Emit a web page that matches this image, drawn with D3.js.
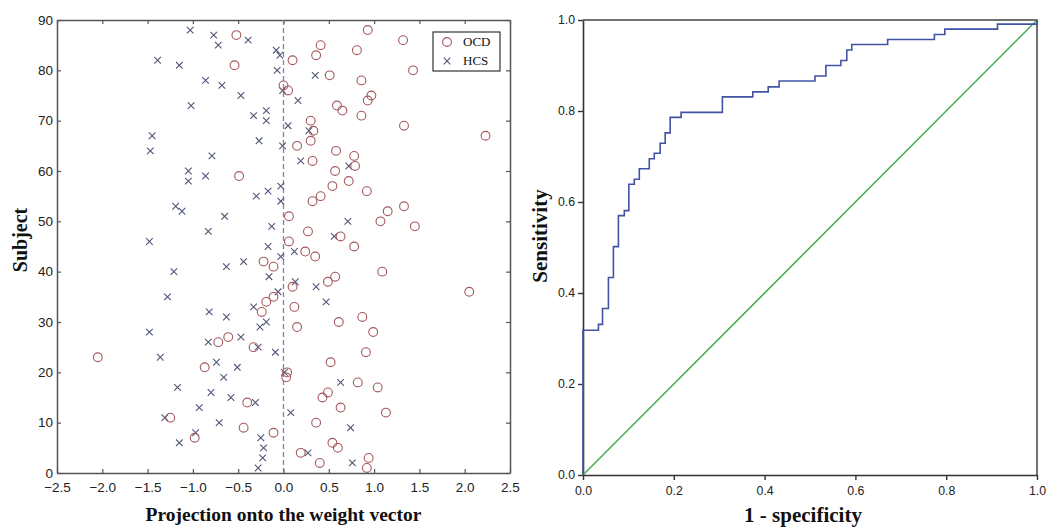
<!DOCTYPE html>
<html>
<head>
<meta charset="utf-8">
<script src="https://cdnjs.cloudflare.com/ajax/libs/d3/7.8.5/d3.min.js"></script>
<style>
  body { margin: 0; background: #fff; }
  svg { display: block; }
  .tick text { font-family: "Liberation Sans", Arial, sans-serif; fill: #222; }
  .ttl { font-family: "Liberation Serif", "Times New Roman", serif; font-weight: bold; fill: #111; }
</style>
</head>
<body>
<svg id="stage" width="1046" height="529"></svg>
<script>
var svg = d3.select("#stage");

// data: projection value per subject, subjects 1..88 in each group
var ocdProj = [0.92, 0.40, 0.94, 0.19, 0.60, 0.54, -0.98, -0.11, -0.44, 0.36,
  -1.25, 1.13, 0.63, -0.40, 0.43, 0.49, 1.04, 0.82, 0.03, 0.04,
  -0.87, 0.52, -2.05, 0.91, -0.33, -0.72, -0.61, 0.99, 0.15, 0.61,
  0.87, -0.24, 0.12, -0.19, -0.11, 2.05, 0.10, 0.49, 0.57, 1.09,
  -0.11, -0.22, 0.35, 0.24, 0.78, 0.06, 0.63, 0.27, 1.45, 1.07,
  0.06, 1.15, 1.33, 0.32, 0.41, 0.92, 0.54, 0.72, -0.49, 0.57,
  0.79, 0.32, 0.78, 0.58, 0.15, 0.30, 2.23, 0.33, 1.33, 0.30,
  0.86, 0.65, 0.59, 0.93, 0.97, 0.05, 0.00, 0.86, 0.51, 1.43,
  -0.54, 0.10, 0.36, 0.81, 0.41, 1.32, -0.52, 0.93];

var hcsProj = [-0.28, 0.76, -0.23, 0.27, -0.22, -1.15, -0.25, -0.97, 0.74, -0.71,
  -1.31, 0.08, -0.93, -0.31, -0.58, -0.80, -1.17, 0.63, -0.66, 0.01,
  -0.51, -0.74, -1.36, -0.09, -0.28, -0.83, -0.47, -1.48, -0.26, -0.19,
  -0.63, -0.82, -0.33, 0.47, -1.28, -0.06, 0.36, 0.13, -0.16, -1.21,
  -0.63, -0.44, -0.03, 0.12, -0.17, -1.48, 0.56, -0.83, -0.13, 0.71,
  -0.65, -1.12, -1.19, -0.03, -0.30, -0.17, -0.03, -1.05, -0.86, -1.05,
  0.72, 0.19, -0.79, -1.47, -0.01, -0.27, -1.45, 0.28, 0.05, -0.19,
  -0.33, -0.19, -1.02, 0.16, -0.47, -0.01, -0.68, -0.86, 0.35, -0.07,
  -1.15, -1.39, -0.04, -0.08, -0.72, -0.39, -0.77, -1.03];

var projTicks = [-2.5, -2, -1.5, -1, -0.5, 0, 0.5, 1, 1.5, 2, 2.5];
var subjTicks = [0, 10, 20, 30, 40, 50, 60, 70, 80, 90];

// ROC operating points (1 - specificity, sensitivity)
var rocFpr = [0, 0, 0.034, 0.043, 0.056, 0.067, 0.078, 0.091, 0.101, 0.113,
  0.124, 0.146, 0.157, 0.170, 0.181, 0.192, 0.216, 0.307, 0.374, 0.408,
  0.432, 0.511, 0.535, 0.568, 0.581, 0.592, 0.671, 0.774, 0.797, 0.913, 1.0];
var rocTpr = [0, 0.318, 0.331, 0.366, 0.434, 0.502, 0.570, 0.581, 0.639, 0.650,
  0.673, 0.695, 0.707, 0.729, 0.752, 0.786, 0.797, 0.831, 0.842, 0.853,
  0.866, 0.877, 0.900, 0.911, 0.934, 0.946, 0.957, 0.968, 0.980, 0.991, 1.0];
var rocTicks = [0, 0.2, 0.4, 0.6, 0.8, 1.0];

////////////////////////////// LEFT: projection scatter

var L = {left: 57, right: 510, top: 20, bottom: 473};
var x1 = d3.scaleLinear().domain([-2.5, 2.5]).range([L.left, L.right]);
var y1 = d3.scaleLinear().domain([0, 90]).range([L.bottom, L.top]);

var left = svg.append("g");

var styleAxis = function(g, size){
  g.selectAll("path.domain").attr("stroke", "#555").attr("stroke-width", 1.5);
  g.selectAll(".tick line").attr("stroke", "#555").attr("stroke-width", 1.2);
  g.selectAll(".tick text").style("font-size", size + "px");
};

left.append("g")
  .attr("transform", "translate(0," + L.bottom + ")")
  .call(d3.axisBottom(x1).tickValues(projTicks).tickSizeInner(-4).tickSizeOuter(0).tickPadding(9))
  .call(styleAxis, 13.5);

left.append("g")
  .attr("transform", "translate(0," + L.top + ")")
  .call(d3.axisTop(x1).tickValues(projTicks).tickSizeInner(-4).tickSizeOuter(0).tickFormat(""))
  .call(styleAxis, 12);

left.append("g")
  .attr("transform", "translate(" + L.left + ",0)")
  .call(d3.axisLeft(y1).tickValues(subjTicks).tickSizeInner(-4).tickSizeOuter(0).tickPadding(4))
  .call(styleAxis, 13.5);

left.append("g")
  .attr("transform", "translate(" + L.right + ",0)")
  .call(d3.axisRight(y1).tickValues(subjTicks).tickSizeInner(-4).tickSizeOuter(0).tickFormat(""))
  .call(styleAxis, 12);

// dashed zero line
left.append("line")
  .attr("x1", x1(0)).attr("x2", x1(0))
  .attr("y1", L.top).attr("y2", L.bottom)
  .attr("stroke", "#7a84a8").attr("stroke-width", 1.3)
  .attr("stroke-dasharray", "5,3");

var crossPath = "M-3.3,-3.3L3.3,3.3M-3.3,3.3L3.3,-3.3";

left.selectAll("path.hcs")
  .data(hcsProj)
  .enter().append("path")
    .attr("class", "hcs")
    .attr("d", crossPath)
    .attr("transform", function(d, i){ return "translate(" + x1(d) + "," + y1(i + 1) + ")"; })
    .attr("stroke", "#4f5678").attr("stroke-width", 1.1).attr("fill", "none");

left.selectAll("circle.ocd")
  .data(ocdProj)
  .enter().append("circle")
    .attr("class", "ocd")
    .attr("cx", function(d){ return x1(d); })
    .attr("cy", function(d, i){ return y1(i + 1); })
    .attr("r", 4.4)
    .attr("stroke", "#a4585c").attr("stroke-width", 1.1).attr("fill", "none");

// legend
var lg = left.append("g").attr("transform", "translate(433,32)");
lg.append("rect").attr("width", 67).attr("height", 39)
  .attr("fill", "#fff").attr("stroke", "#333").attr("stroke-width", 1.2);
lg.append("circle").attr("cx", 14).attr("cy", 10).attr("r", 4.4)
  .attr("stroke", "#a4585c").attr("stroke-width", 1.1).attr("fill", "none");
lg.append("path").attr("d", crossPath).attr("transform", "translate(14,29)")
  .attr("stroke", "#4f5678").attr("stroke-width", 1.1);
lg.append("text").attr("x", 30).attr("y", 14).text("OCD")
  .style("font-family", "Liberation Serif, serif").style("font-size", "13px").attr("fill", "#111");
lg.append("text").attr("x", 30).attr("y", 33).text("HCS")
  .style("font-family", "Liberation Serif, serif").style("font-size", "13px").attr("fill", "#111");

left.append("text").attr("class", "ttl")
  .attr("x", (L.left + L.right) / 2).attr("y", 521)
  .attr("text-anchor", "middle").style("font-size", "19.5px")
  .text("Projection onto the weight vector");

left.append("text").attr("class", "ttl")
  .attr("transform", "translate(27,240) rotate(-90)")
  .attr("text-anchor", "middle").style("font-size", "20px")
  .text("Subject");

////////////////////////////// RIGHT: ROC

var R = {left: 583, right: 1037, top: 20, bottom: 475};
var x2 = d3.scaleLinear().domain([0, 1]).range([R.left, R.right]);
var y2 = d3.scaleLinear().domain([0, 1]).range([R.bottom, R.top]);

var right = svg.append("g");

var styleRoc = function(g){
  g.selectAll("path.domain").attr("stroke", "#333").attr("stroke-width", 1.6);
  g.selectAll(".tick line").attr("stroke", "#333").attr("stroke-width", 1.4);
  g.selectAll(".tick text").style("font-size", "12.3px").attr("fill", "#333");
};

right.append("g")
  .attr("transform", "translate(0," + R.bottom + ")")
  .call(d3.axisBottom(x2).tickValues(rocTicks).tickSizeInner(5).tickSizeOuter(0).tickPadding(6).tickFormat(d3.format(".1f")))
  .call(styleRoc);

right.append("g")
  .attr("transform", "translate(" + R.left + ",0)")
  .call(d3.axisLeft(y2).tickValues(rocTicks).tickSizeInner(5).tickSizeOuter(0).tickPadding(3).tickFormat(d3.format(".1f")))
  .call(styleRoc);

// top and right frame
right.append("path")
  .attr("d", d3.line()([[x2(0), y2(1)], [x2(1), y2(1)], [x2(1), y2(0)]]))
  .attr("fill", "none").attr("stroke", "#444").attr("stroke-width", 1.5);

// reference diagonal
right.append("line")
  .attr("x1", x2(0)).attr("y1", y2(0)).attr("x2", x2(1)).attr("y2", y2(1))
  .attr("stroke", "#3fae4e").attr("stroke-width", 1.5);

var rocLine = d3.line()
  .x(function(d){ return x2(d[0]); })
  .y(function(d){ return y2(d[1]); })
  .curve(d3.curveStepAfter);

right.append("path")
  .datum(d3.zip(rocFpr, rocTpr))
  .attr("d", rocLine)
  .attr("fill", "none").attr("stroke", "#4253a6").attr("stroke-width", 1.6);

right.append("text").attr("class", "ttl")
  .attr("x", 803).attr("y", 522)
  .attr("text-anchor", "middle").style("font-size", "21px")
  .text("1 - specificity");

right.append("text").attr("class", "ttl")
  .attr("transform", "translate(547,236) rotate(-90)")
  .attr("text-anchor", "middle").style("font-size", "21px")
  .text("Sensitivity");
</script>
</body>
</html>
